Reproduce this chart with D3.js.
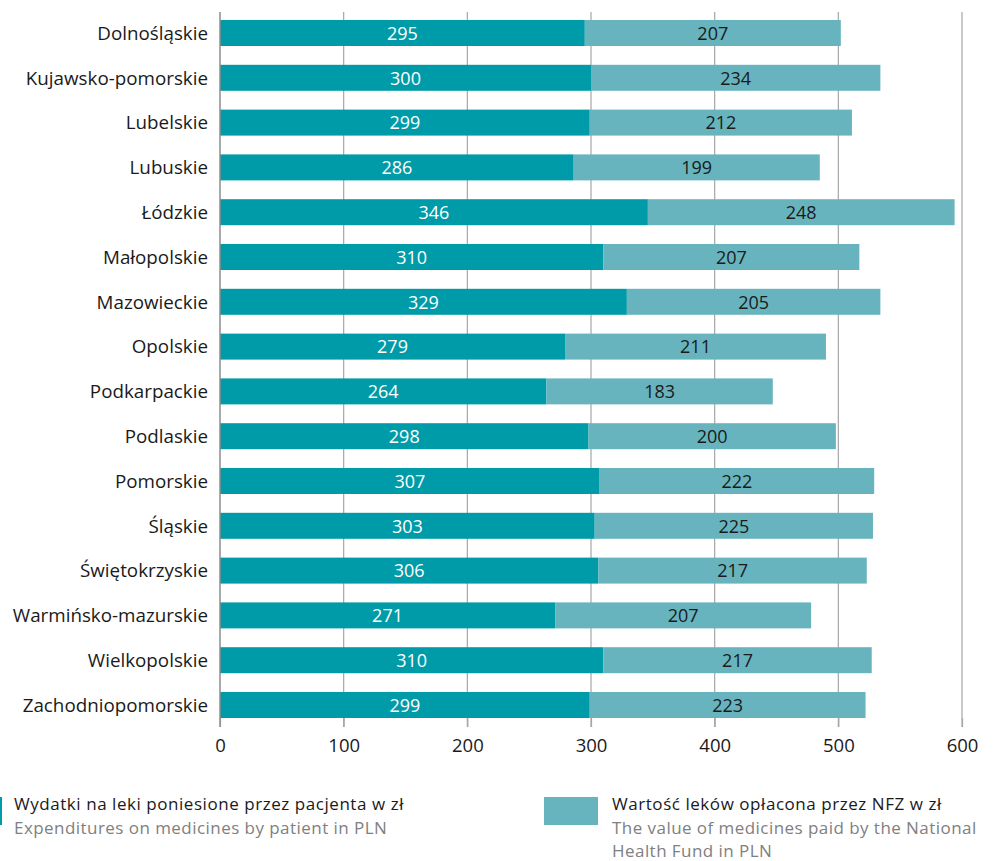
<!DOCTYPE html>
<html><head><meta charset="utf-8">
<script src="https://cdn.jsdelivr.net/npm/d3@7"></script>
<style>body{margin:0;background:#fff}svg{display:block}text{font-family:"Open Sans",sans-serif}</style>
</head><body><svg id="c" width="1000" height="861"></svg>
<script>
const categories=["Dolnośląskie","Kujawsko-pomorskie","Lubelskie","Lubuskie","Łódzkie","Małopolskie","Mazowieckie","Opolskie","Podkarpackie","Podlaskie","Pomorskie","Śląskie","Świętokrzyskie","Warmińsko-mazurskie","Wielkopolskie","Zachodniopomorskie"];
const patient=[295,300,299,286,346,310,329,279,264,298,307,303,306,271,310,299];
const nfz=[207,234,212,199,248,207,205,211,183,200,222,225,217,207,217,223];
const ticks=[0,100,200,300,400,500,600];
const legendPL=["Wydatki na leki poniesione przez pacjenta w zł","Wartość leków opłacona przez NFZ w zł"];
const legendEN=[["Expenditures on medicines by patient in PLN"],["The value of medicines paid by the National","Health Fund in PLN"]];
const colors=["#009ba8","#67b4be"];

const svg=d3.select("#c");
const x=d3.scaleLinear().domain([0,600]).range([220,962]);
const y=d3.scaleBand().domain(categories).range([10.6,727.4]).paddingInner(0.42).paddingOuter(0.21);

svg.append("g").selectAll("line").data(ticks.slice(1)).join("line")
 .attr("x1",d=>x(d)).attr("x2",d=>x(d)).attr("y1",12).attr("y2",727)
 .attr("stroke","#a6a6a6").attr("stroke-width",1.2);
const xa=svg.append("g").attr("transform","translate(0,718)")
 .call(d3.axisBottom(x).tickValues(ticks).tickSize(9).tickFormat(d3.format("d")));
xa.select(".domain").remove();
xa.selectAll(".tick line").attr("stroke","#a6a6a6").attr("stroke-width",1.2);
xa.selectAll(".tick text").attr("y",21).attr("font-size",18.5).attr("fill","#1a1a1a").attr("font-family","'Open Sans',sans-serif");

const rows=svg.append("g").selectAll("g").data(categories).join("g");
rows.append("rect").attr("x",x(0)).attr("y",d=>y(d)).attr("height",y.bandwidth())
 .attr("width",(d,i)=>x(patient[i])-x(0)).attr("fill",colors[0]);
rows.append("rect").attr("x",(d,i)=>x(patient[i])).attr("y",d=>y(d)).attr("height",y.bandwidth())
 .attr("width",(d,i)=>x(patient[i]+nfz[i])-x(patient[i])).attr("fill",colors[1]);
rows.append("text").attr("x",(d,i)=>x(patient[i]/2)).attr("y",d=>y(d)+y.bandwidth()/2).attr("dy","0.38em")
 .attr("text-anchor","middle").attr("font-size",18).attr("fill","#fff").text((d,i)=>patient[i]);
rows.append("text").attr("x",(d,i)=>x(patient[i]+nfz[i]/2)).attr("y",d=>y(d)+y.bandwidth()/2).attr("dy","0.38em")
 .attr("text-anchor","middle").attr("font-size",18).attr("fill","#1a1a1a").text((d,i)=>nfz[i]);
rows.append("text").attr("x",208).attr("y",d=>y(d)+y.bandwidth()/2).attr("dy","0.36em")
 .attr("text-anchor","end").attr("font-size",18.8).attr("fill","#1a1a1a").text(d=>d);
svg.append("line").attr("x1",x(0)).attr("x2",x(0)).attr("y1",12).attr("y2",727).attr("stroke","#8c8c8c").attr("stroke-width",1.5);

const lg=[{sx:-52,tx:14},{sx:544,tx:612}];
lg.forEach((l,i)=>{
 svg.append("rect").attr("x",l.sx).attr("y",797).attr("width",54).attr("height",28).attr("fill",colors[i]);
 svg.append("text").attr("x",l.tx).attr("y",810).attr("font-size",17).attr("letter-spacing","0.55px").attr("fill","#1a1a1a").text(legendPL[i]);
 legendEN[i].forEach((t,j)=>svg.append("text").attr("x",l.tx).attr("y",833.5+j*23.5).attr("font-size",17).attr("letter-spacing","0.45px").attr("fill","#808080").text(t));
});
</script></body></html>
